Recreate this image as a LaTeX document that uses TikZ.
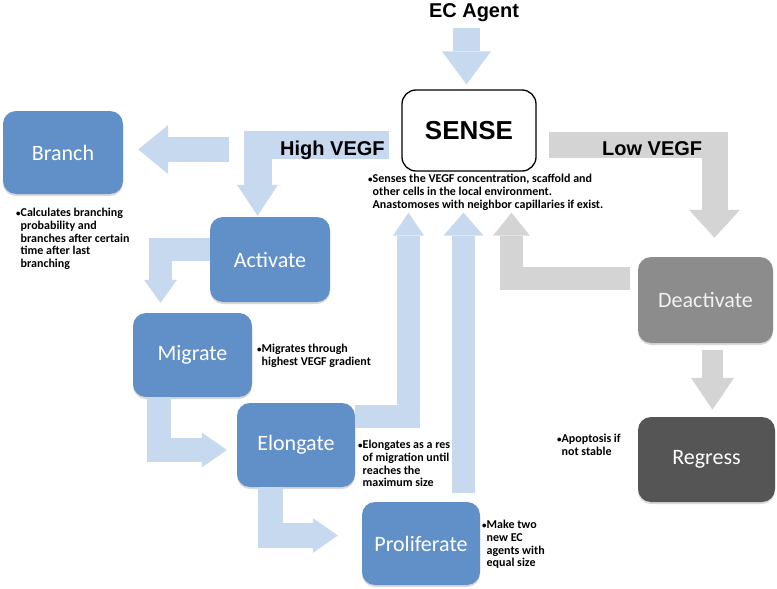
\documentclass[tikz,border=0pt]{standalone}
\usepackage{fontspec}
\setmainfont{Carlito}
\newfontfamily\headfont{Liberation Sans}
\usetikzlibrary{arrows.meta,shadows}
\definecolor{boxblue}{RGB}{97,143,199}
\definecolor{arrblue}{RGB}{199,217,238}
\definecolor{arrgray}{RGB}{212,212,212}
\definecolor{deagray}{RGB}{140,140,140}
\definecolor{reggray}{RGB}{85,85,85}
\newcommand{\ind}{\hspace*{4.5pt}}
\newcommand{\bul}{{\fontsize{9}{9}\selectfont\textbullet}}
\tikzset{
  stage/.style={rectangle,rounded corners=13pt,fill=boxblue,text=white,inner sep=0pt,
    font=\fontsize{22}{26}\selectfont,
    drop shadow={shadow xshift=0pt,shadow yshift=-2pt,opacity=.3}},
  sensebox/.style={rectangle,rounded corners=14pt,draw=black,line width=1.3pt,fill=white,
    minimum width=134pt,minimum height=81pt,inner sep=0pt,
    font=\headfont\bfseries\fontsize{26}{30}\selectfont},
  head/.style={font=\headfont\bfseries\fontsize{20}{24}\selectfont,inner sep=0pt},
  note/.style={anchor=north west,align=left,inner sep=0pt,
    font=\bfseries\fontsize{12}{12.7}\selectfont},
  blk/.style n args={3}{line width=#1,line join=miter,
    -{Triangle[width=#2,length=#3,line width=0pt]}}
}
\begin{document}
\begin{tikzpicture}[x=1pt,y=1pt]
\useasboundingbox (0,0) rectangle (777,-589);
% stages
\node[sensebox] (sense) at (469,-130.5) {SENSE};
\node[stage,minimum width=120pt,minimum height=83pt] (branch) at (63,-152.5) {Branch};
\node[stage,minimum width=120pt,minimum height=85pt] (activate) at (270,-259.5) {Activate};
\node[stage,minimum width=119pt,minimum height=84pt] (migrate) at (192.5,-355) {Migrate};
\node[stage,minimum width=118pt,minimum height=84pt] (elongate) at (296,-445) {Elongate};
\node[stage,minimum width=118pt,minimum height=83pt] (proliferate) at (421,-543.5) {Proliferate};
\node[stage,fill=deagray,text=white!95!black,minimum width=135pt,minimum height=86pt] (deactivate) at (705.5,-300) {Deactivate};
\node[stage,fill=reggray,minimum width=137pt,minimum height=85pt] (regress) at (706.5,-459.5) {Regress};
\node[head,anchor=base] (ec) at (474,-17) {EC Agent};
% block arrows
\draw[arrblue,blk={27pt}{49pt}{33pt}] ([xshift=-7.5pt,yshift=-7pt]ec.south) -- ([xshift=-2.5pt,yshift=5pt]sense.north);
\draw[arrblue,blk={28pt}{41pt}{31pt}] ([xshift=-12pt,yshift=-14pt]sense.west) -| ([xshift=-12.5pt,yshift=1pt]activate.north);
\draw[arrblue,blk={25pt}{49pt}{30pt}] ([xshift=106pt,yshift=3pt]branch.east) -- ([xshift=15pt,yshift=3pt]branch.east);
\draw[arrblue,blk={23pt}{33pt}{23pt}] ([yshift=10.5pt]activate.west) -| ([xshift=-32pt,yshift=10pt]migrate.north);
\draw[arrblue,blk={24pt}{35pt}{25pt}] ([xshift=-33.5pt]migrate.south) |- ([xshift=-10pt,yshift=-5pt]elongate.west);
\draw[arrblue,blk={25pt}{35pt}{25pt}] ([xshift=-26pt]elongate.south) |- ([xshift=-24pt,yshift=8pt]proliferate.west);
\draw[arrblue,blk={23pt}{31pt}{23pt}] ([yshift=28.5pt]elongate.east) -| ([xshift=-60.5pt,yshift=-41pt]sense.south);
\draw[arrblue,blk={23pt}{40pt}{23pt}] ([xshift=42.5pt,yshift=9pt]proliferate.north) -- ([xshift=-5.5pt,yshift=-41pt]sense.south);
\draw[arrgray,blk={23pt}{37pt}{23pt}] ([xshift=-8pt,yshift=21.5pt]deactivate.west) -| ([xshift=42.5pt,yshift=-41pt]sense.south);
\draw[arrgray,blk={26pt}{51pt}{28pt}] ([xshift=12pt,yshift=-14.5pt]sense.east) -| ([xshift=9pt,yshift=19pt]deactivate.north);
\draw[arrgray,blk={21pt}{43pt}{32pt}] ([xshift=7pt,yshift=-7pt]deactivate.south) -- ([xshift=6pt,yshift=7pt]regress.north);
% labels
\node[head,anchor=base west] (hi) at (280,-155) {High VEGF};
\node[head,anchor=base west] (lo) at (602,-155) {Low VEGF};
% notes
\node[note] (sensenote) at (368,-174) {\bul Senses the VEGF concentration, scaffold and\\\ind other cells in the local environment.\\\ind Anastomoses with neighbor capillaries if exist.};
\node[note] (branchnote) at (16,-208) {\bul Calculates branching\\\ind probability and\\\ind branches after certain\\\ind time after last\\\ind branching};
\node[note] (migratenote) at (257,-344) {\bul Migrates through\\\ind highest VEGF gradient};
\node[note] (elongatenote) at (358,-440) {\bul Elongates as a res\\\ind of migration until\\\ind reaches the\\\ind maximum size};
\node[note] (prolifnote) at (482,-520) {\bul Make two\\\ind new EC\\\ind agents with\\\ind equal size};
\node[note] (regressnote) at (557,-434) {\bul Apoptosis if\\\ind not stable};
\end{tikzpicture}
\end{document}
